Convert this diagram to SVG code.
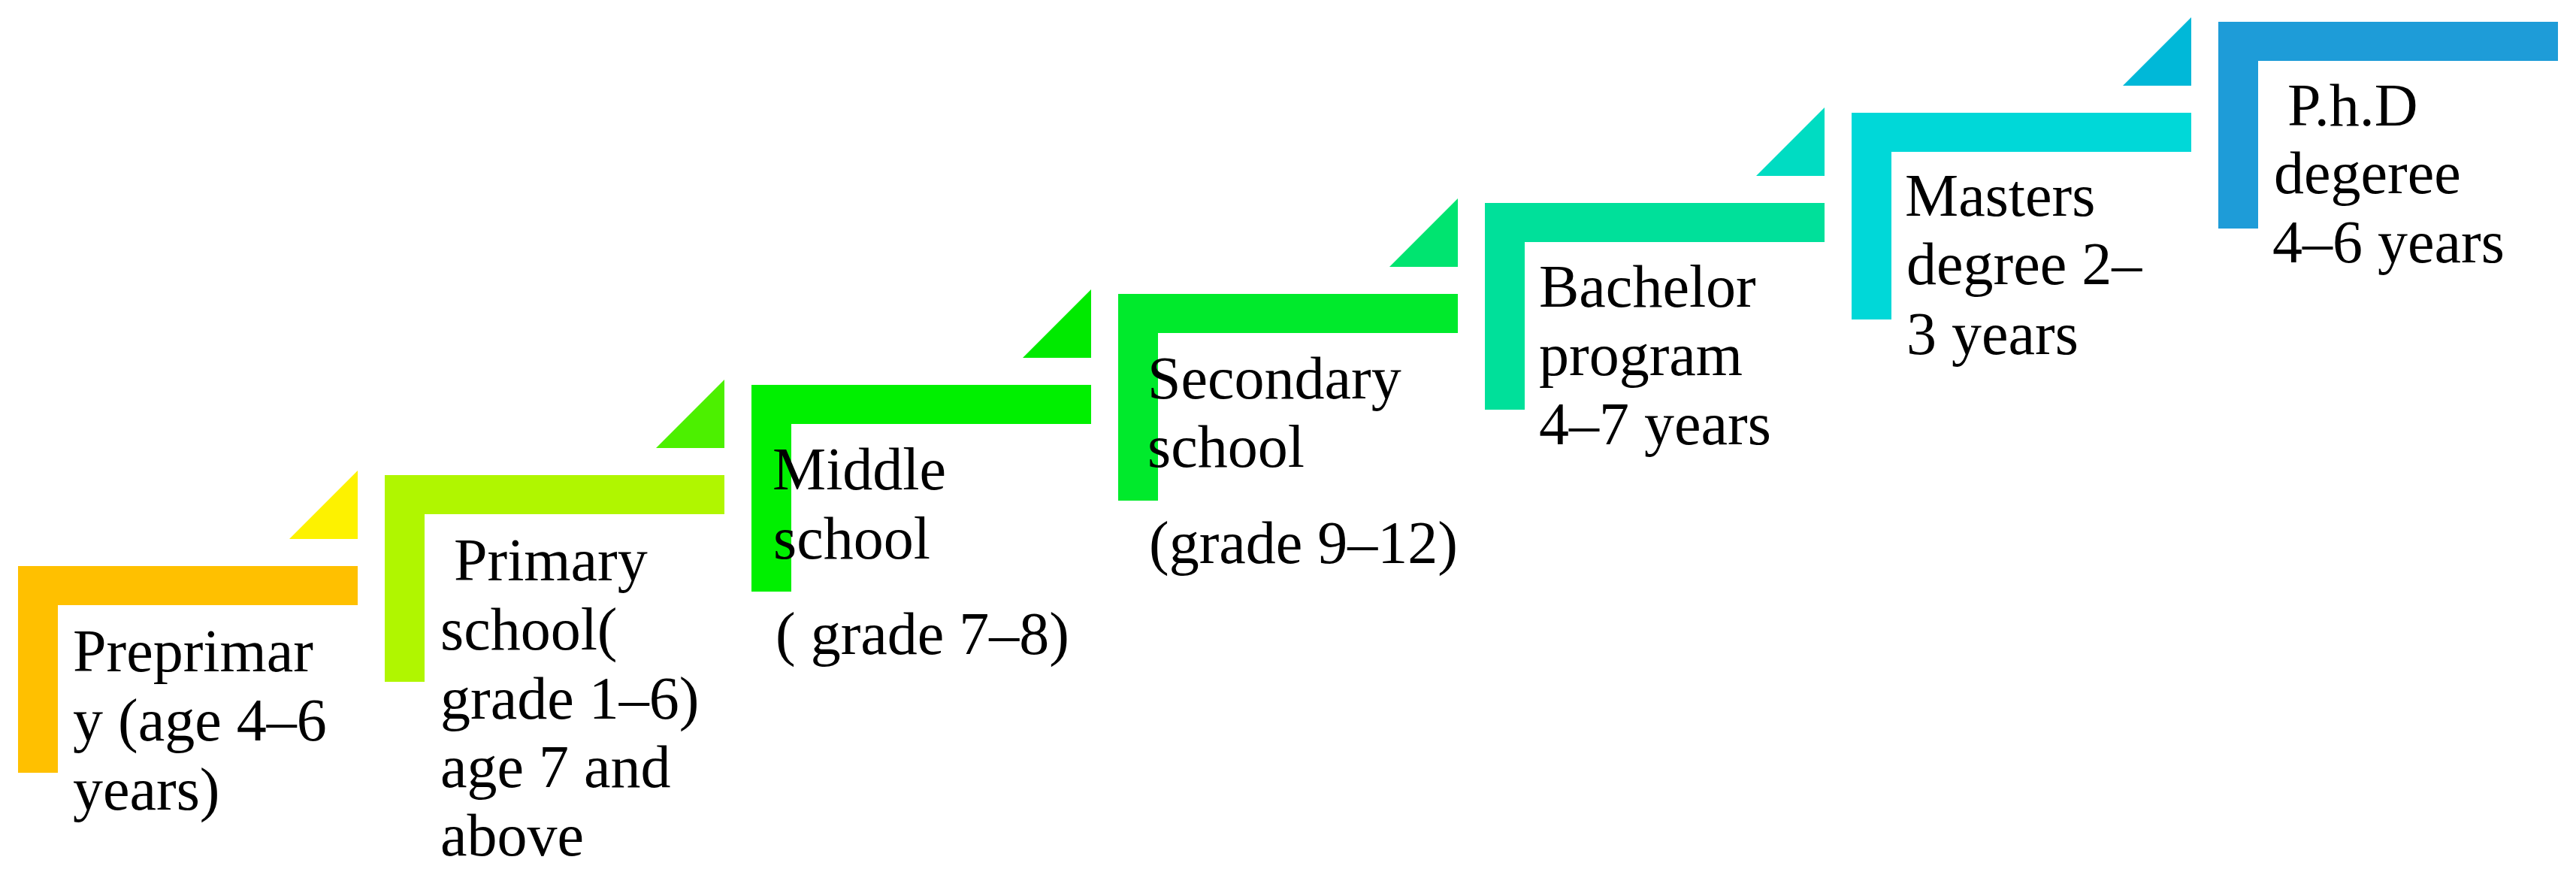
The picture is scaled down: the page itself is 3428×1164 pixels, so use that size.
<svg xmlns="http://www.w3.org/2000/svg" width="3428" height="1164" viewBox="0 0 3428 1164">
<style>
text { font-family: "Liberation Serif", "Times New Roman", serif; font-size: 80px; fill: #000000; }
</style>
<rect x="0" y="0" width="3428" height="1164" fill="#ffffff"/>
<g id="connectors">
  <polygon points="476,626 476,717 385,717" fill="#FDF200"/>
  <polygon points="964,505 964,596 873,596" fill="#4CF000"/>
  <polygon points="1452,385 1452,476 1361,476" fill="#00EA00"/>
  <polygon points="1940,264 1940,355 1849,355" fill="#00E470"/>
  <polygon points="2428,143 2428,234 2337,234" fill="#00DCC2"/>
  <polygon points="2916,23 2916,114 2825,114" fill="#00B8D8"/>
</g>
<g id="preprimary">
  <path d="M24 753 H476 V805 H77 V1028 H24 Z" fill="#FFC000"/>
  <text x="97" y="893">Preprimar</text>
  <text x="97" y="985">y (age 4–6</text>
  <text x="97" y="1077">years)</text>
</g>
<g id="primary">
  <path d="M512 632 H964 V684 H565 V907 H512 Z" fill="#B0F600"/>
  <text x="604" y="772">Primary</text>
  <text x="586" y="864">school(</text>
  <text x="586" y="956">grade 1–6)</text>
  <text x="586" y="1047">age 7 and</text>
  <text x="586" y="1138">above</text>
</g>
<g id="middle">
  <path d="M1000 512 H1452 V564 H1053 V787 H1000 Z" fill="#00F000"/>
  <text x="1028" y="651">Middle</text>
  <text x="1029" y="743">school</text>
  <text x="1032" y="870">( grade 7–8)</text>
</g>
<g id="secondary">
  <path d="M1488 391 H1940 V443 H1541 V666 H1488 Z" fill="#00EA2C"/>
  <text x="1527" y="530">Secondary</text>
  <text x="1527" y="621">school</text>
  <text x="1529" y="749">(grade 9–12)</text>
</g>
<g id="bachelor">
  <path d="M1976 270 H2428 V322 H2029 V545 H1976 Z" fill="#00E09A"/>
  <text x="2048" y="408">Bachelor</text>
  <text x="2048" y="499">program</text>
  <text x="2048" y="591">4–7 years</text>
</g>
<g id="masters">
  <path d="M2464 150 H2916 V202 H2517 V425 H2464 Z" fill="#00D8D8"/>
  <text x="2535" y="287">Masters</text>
  <text x="2537" y="378">degree 2–</text>
  <text x="2537" y="471">3 years</text>
</g>
<g id="phd">
  <path d="M2952 29 H3404 V81 H3005 V304 H2952 Z" fill="#1E9CD8"/>
  <text x="3044" y="167">P.h.D</text>
  <text x="3026" y="257">degeree</text>
  <text x="3024" y="349">4–6 years</text>
</g>
</svg>
